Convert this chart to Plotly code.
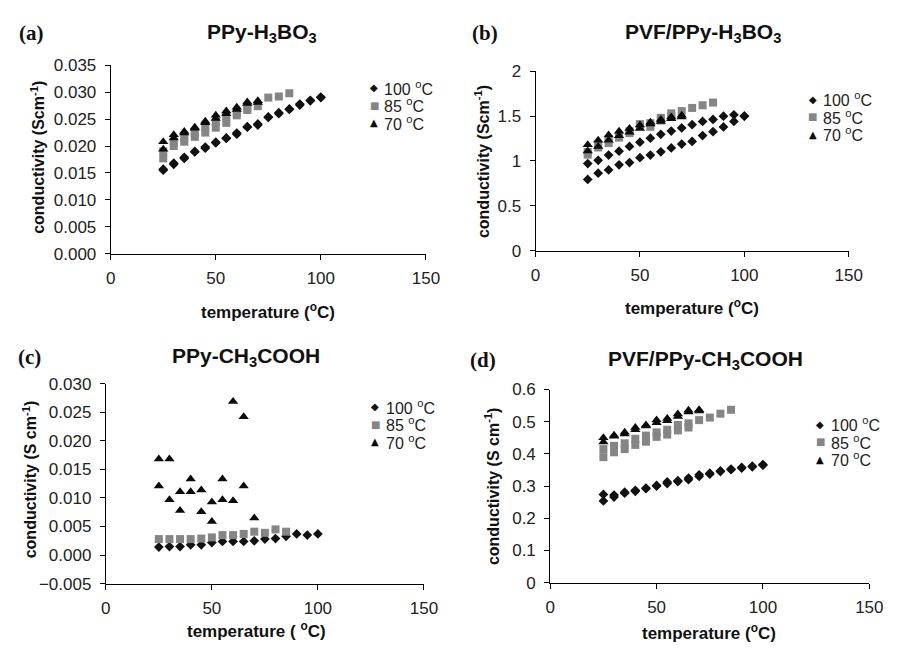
import plotly.graph_objects as go

# ---------------- data ----------------
T100 = [25, 30, 35, 40, 45, 50, 55, 60, 65, 70, 75, 80, 85, 90, 95, 100]
T85 = [25, 30, 35, 40, 45, 50, 55, 60, 65, 70, 75, 80, 85]
T70 = [25, 30, 35, 40, 45, 50, 55, 60, 65, 70]
T85B = [25, 30, 35, 40, 45, 50, 55, 60, 65]
T70C = [25, 30, 35, 40, 45, 50, 55, 60, 65]

# (a) PPy-H3BO3
A_100_1 = [0.0157, 0.0168, 0.0179, 0.0190, 0.0198, 0.0206, 0.0215, 0.0224, 0.0235, 0.0241, 0.0253, 0.0260, 0.0268, 0.0276, 0.0284, 0.0290]
A_100_2 = [0.0155, 0.0166, 0.0177, 0.0189, 0.0196, 0.0207, 0.0214, 0.0222, 0.0236, 0.0239, 0.0254, 0.0262, 0.0269, 0.0278, 0.0285, 0.0291]
A_85_1 = [0.0177, 0.0200, 0.0208, 0.0217, 0.0225, 0.0234, 0.0243, 0.0257, 0.0267, 0.0274, 0.0290, 0.0292, 0.0298]
A_85_2 = [0.0190, 0.0208, 0.0215, 0.0225, 0.0235, 0.0245, 0.0255, 0.0262, 0.0270]
A_70_1 = [0.0208, 0.0221, 0.0227, 0.0235, 0.0246, 0.0257, 0.0265, 0.0272, 0.0282, 0.0284]
A_70_2 = [0.0194, 0.0215, 0.0224, 0.0233, 0.0243, 0.0251, 0.0260, 0.0268, 0.0279, 0.0281]

# (b) PVF/PPy-H3BO3
B_100_1 = [0.971, 1.007, 1.065, 1.108, 1.162, 1.209, 1.253, 1.296, 1.332, 1.368, 1.404, 1.440, 1.462, 1.498, 1.513, 1.498]
B_100_2 = [0.794, 0.863, 0.899, 0.957, 0.982, 1.036, 1.065, 1.101, 1.144, 1.188, 1.217, 1.282, 1.325, 1.379, 1.440, 1.500]
B_85_1 = [1.07, 1.15, 1.20, 1.26, 1.31, 1.39, 1.42, 1.48, 1.50, 1.555, 1.59, 1.62, 1.65]
B_85_2 = [1.10, 1.18, 1.24, 1.28, 1.33, 1.41, 1.38, 1.45, 1.53]
B_70_1 = [1.18, 1.23, 1.29, 1.33, 1.36, 1.40, 1.43, 1.46, 1.49, 1.51]
B_70_2 = [1.11, 1.16, 1.23, 1.28, 1.32, 1.36, 1.41, 1.44, 1.47, 1.49]

# (c) PPy-CH3COOH
C_100_1 = [0.0014, 0.0015, 0.0015, 0.0018, 0.0018, 0.0022, 0.0024, 0.0024, 0.0024, 0.0025, 0.0028, 0.0029, 0.0033, 0.0037, 0.0035, 0.0037]
C_85_1 = [0.0028, 0.0028, 0.0028, 0.0028, 0.0029, 0.0031, 0.0035, 0.0035, 0.0037, 0.0041, 0.0039, 0.0045, 0.0041]
C_70_1 = [0.0168, 0.0168, 0.0111, 0.0133, 0.0114, 0.0093, 0.0133, 0.0269, 0.0242, 0.0065]
C_70_2 = [0.0121, 0.0097, 0.0078, 0.0111, 0.0076, 0.0059, 0.0097, 0.0095, 0.0121]

# (d) PVF/PPy-CH3COOH
D_100_1 = [0.274, 0.272, 0.281, 0.287, 0.294, 0.302, 0.313, 0.317, 0.325, 0.335, 0.340, 0.347, 0.353, 0.358, 0.362, 0.367]
D_100_2 = [0.254, 0.266, 0.278, 0.284, 0.292, 0.300, 0.308, 0.314, 0.320, 0.330, 0.337, 0.345, 0.351, 0.356, 0.360, 0.365]
D_85_1 = [0.415, 0.425, 0.433, 0.447, 0.457, 0.467, 0.475, 0.490, 0.495, 0.505, 0.513, 0.525, 0.537]
D_85_2 = [0.390, 0.405, 0.415, 0.428, 0.438, 0.453, 0.460, 0.473, 0.482]
D_70_1 = [0.450, 0.458, 0.467, 0.482, 0.490, 0.505, 0.510, 0.524, 0.536, 0.537]
D_70_2 = [0.437, 0.455, 0.462, 0.475, 0.487, 0.497, 0.503, 0.516, 0.530, 0.533]

LEGEND_LABELS = ["100 <sup>o</sup>C", "85 <sup>o</sup>C", "70 <sup>o</sup>C"]
LEGEND_GLYPHS = ["◆", "■", "▲"]
TITLES = ["PPy-H<sub>3</sub>BO<sub>3</sub>", "PVF/PPy-H<sub>3</sub>BO<sub>3</sub>",
          "PPy-CH<sub>3</sub>COOH", "PVF/PPy-CH<sub>3</sub>COOH"]
PANEL_TAGS = ["(a)", "(b)", "(c)", "(d)"]
YTITLES = ["conductivity (Scm<sup>-1</sup>)", "conductivity (Scm<sup>-1</sup>)",
           "conductivity (S cm<sup>-1</sup>)", "conductivity (S cm<sup>-1</sup>)"]
XTITLES = ["temperature (<sup>o</sup>C)", "temperature (<sup>o</sup>C)",
           "temperature ( <sup>o</sup>C)", "temperature (<sup>o</sup>C)"]

# ---------------- styling / layout ----------------
W, H = 898, 649
FONT = "Liberation Sans, Arial, sans-serif"
STY = {
    "100": dict(symbol="diamond", size=7.5, color="#111111"),
    "85": dict(symbol="square", size=8, color="#858585"),
    "70": dict(symbol="triangle-up", size=9, color="#0a0a0a"),
}
GLYPH_COLORS = ["#111111", "#858585", "#0a0a0a"]

# panel plot areas in pixels: (x0, x1, ytop, ybottom)
AREAS = [(108, 430, 58, 252), (542, 862, 64, 249), (103, 428, 386, 592), (557, 883, 392, 591)]
YRANGES = [(0, 0.035), (0, 2), (-0.005, 0.030), (0, 0.6)]
YDTICK = [0.005, 0.5, 0.005, 0.1]
YFMT = [".3f", "", ".3f", ""]

panels = [
    [("100", T100, A_100_1), ("100", T100, A_100_2), ("85", T85, A_85_1), ("85", T85B, A_85_2),
     ("70", T70, A_70_1), ("70", T70, A_70_2)],
    [("100", T100, B_100_1), ("100", T100, B_100_2), ("85", T85, B_85_1), ("85", T85B, B_85_2),
     ("70", T70, B_70_1), ("70", T70, B_70_2)],
    [("100", T100, C_100_1), ("85", T85, C_85_1), ("70", T70, C_70_1), ("70", T70C, C_70_2)],
    [("100", T100, D_100_1), ("100", T100, D_100_2), ("85", T85, D_85_1), ("85", T85B, D_85_2),
     ("70", T70, D_70_1), ("70", T70, D_70_2)],
]

# annotation pixel positions
TITLE_POS = [(263, 25), (713, 25), (246, 358), (716, 362)]
TAG_POS = [(27, 25), (490, 25), (25, 358), (488, 362)]
YT_POS = [(33, 153), (488, 157), (25, 484), (497, 491)]
XT_POS = [(269, 311), (702, 307), (257, 640), (719, 642)]
LEG_POS = [(377, 385, [81, 99, 117]), (825, 834, [93, 111, 129]),
           (378, 387, [410, 428, 446]), (833, 842, [428, 446, 464])]

def px(x):
    return x / W

def py(y):
    return 1 - y / H

fig = go.Figure()
annotations = []

for i, series in enumerate(panels):
    n = "" if i == 0 else str(i + 1)
    xa, ya = "x" + n, "y" + n
    for key, xs, ys in series:
        s = STY[key]
        fig.add_trace(go.Scatter(
            x=xs, y=ys, mode="markers", xaxis=xa, yaxis=ya, showlegend=False,
            marker=dict(symbol=s["symbol"], size=s["size"], color=s["color"], line=dict(width=0)),
            cliponaxis=False,
        ))
    x0, x1, yt, yb = AREAS[i]
    axcommon = dict(showgrid=False, zeroline=False, showline=True, linecolor="black", linewidth=1,
                    ticks="outside", ticklen=5, tickcolor="black", tickwidth=1,
                    tickfont=dict(family=FONT, size=17, color="#222222"))
    fig.layout["xaxis" + n] = dict(domain=[px(x0), px(x1)], range=[0, 150], tickvals=[0, 50, 100, 150],
                                   anchor=ya, ticklabelstandoff=4, **axcommon)
    fig.layout["yaxis" + n] = dict(domain=[py(yb), py(yt)], range=list(YRANGES[i]), dtick=YDTICK[i],
                                   tick0=YRANGES[i][0], tickformat=YFMT[i], anchor=xa,
                                   ticklabelstandoff=5, **axcommon)

    tx, ty = TITLE_POS[i]
    annotations.append(dict(x=px(tx), y=py(ty), xref="paper", yref="paper", text="<b>" + TITLES[i] + "</b>",
                            showarrow=False, font=dict(family=FONT, size=21, color="#111111"),
                            xanchor="center", yanchor="middle"))
    gx, gy = TAG_POS[i]
    annotations.append(dict(x=px(gx), y=py(gy), xref="paper", yref="paper", text="<b>" + PANEL_TAGS[i] + "</b>",
                            showarrow=False, font=dict(family="Liberation Serif, Times New Roman, serif", size=21, color="#111111"),
                            xanchor="center", yanchor="middle"))
    yx, yy = YT_POS[i]
    annotations.append(dict(x=px(yx), y=py(yy), xref="paper", yref="paper", text="<b>" + YTITLES[i] + "</b>",
                            showarrow=False, textangle=-90, font=dict(family=FONT, size=16, color="#111111"),
                            xanchor="center", yanchor="middle"))
    xx, xy = XT_POS[i]
    annotations.append(dict(x=px(xx), y=py(xy), xref="paper", yref="paper", text="<b>" + XTITLES[i] + "</b>",
                            showarrow=False, font=dict(family=FONT, size=17, color="#111111"),
                            xanchor="center", yanchor="middle"))
    gxp, txp, lys = LEG_POS[i]
    for g, gc, lab, ly in zip(LEGEND_GLYPHS, GLYPH_COLORS, LEGEND_LABELS, lys):
        annotations.append(dict(x=px(gxp), y=py(ly), xref="paper", yref="paper",
                                text=g, showarrow=False,
                                font=dict(family="DejaVu Sans", size=10, color=gc),
                                xanchor="center", yanchor="middle"))
        annotations.append(dict(x=px(txp), y=py(ly), xref="paper", yref="paper",
                                text=lab, showarrow=False,
                                font=dict(family=FONT, size=16, color="#222222"),
                                xanchor="left", yanchor="middle"))

fig.update_layout(width=W, height=H, margin=dict(l=0, r=0, t=0, b=0),
                  paper_bgcolor="white", plot_bgcolor="white", showlegend=False,
                  annotations=annotations)

fig.write_html("out.html")
